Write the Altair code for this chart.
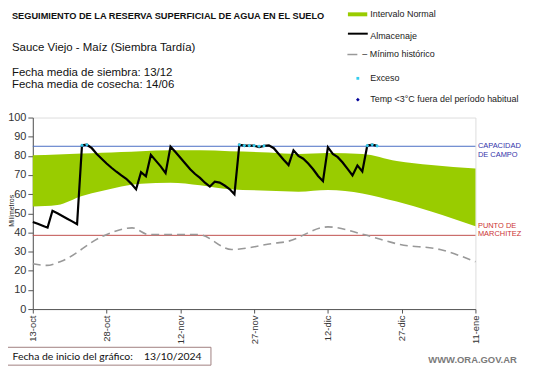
import altair as alt
import pandas as pd

# ---------------- data ----------------
tick_days = [0, 15, 30, 45, 60, 75, 90]
tick_labels = ['13-oct', '28-oct', '12-nov', '27-nov', '12-dic', '27-dic', '11-ene']
y_ticks = [0, 10, 20, 30, 40, 50, 60, 70, 80, 90, 100]

band_days = [0, 5, 10, 14, 18, 22, 28, 34, 40, 48, 54, 60, 67, 74, 81, 90]
band_upper = [80.3, 80.7, 81.2, 81.6, 82.0, 82.4, 82.9, 82.9, 82.4, 81.8, 81.0, 81.5, 81.0, 77.3, 75.2, 73.4]
band_lower = [53.5, 54.3, 59.0, 61.6, 64.0, 65.4, 66.0, 64.7, 62.6, 61.8, 61.3, 62.2, 60.4, 56.1, 51.0, 43.2]

alm_days = list(range(0, 71))
alm_vals = [45.5, 44.5, 43.5, 42.5, 51.3, 50.0, 48.6, 47.2, 45.8, 44.3,
            85.5, 85.8, 84.0, 81.0, 78.5, 76.0, 73.8, 71.7, 69.8, 68.0,
            65.5, 62.5, 71.5, 69.3, 80.5, 77.5, 74.5, 71.0, 84.8, 82.0,
            79.0, 76.0, 73.0, 70.5, 68.5, 66.0, 64.0, 66.5, 66.0, 64.5,
            62.7, 60.0, 85.8, 85.3, 85.3, 85.3, 84.5, 85.2, 85.5, 84.0,
            81.0, 78.0, 75.2, 82.9, 80.0, 78.5, 76.0, 73.0, 69.5, 66.8,
            84.5, 81.0, 79.3, 76.5, 73.2, 69.8, 75.0, 71.8, 85.3, 85.8,
            85.2]

exc_days = [10, 11, 42, 43, 44, 45, 46, 47, 68, 69, 70]
exc_vals = [85.5, 85.8, 85.8, 85.3, 85.3, 85.3, 85.0, 85.2, 85.3, 85.8, 85.2]

min_days = [0, 2.8, 5.8, 14.2, 20.2, 23.6, 33.7, 40.4, 49.5, 51.2, 60, 67.3, 74.7, 82.8, 90]
min_vals = [23.7, 22.8, 25.0, 38.0, 42.4, 38.9, 38.9, 31.1, 34.5, 35.0, 42.9, 38.9, 33.7, 31.1, 24.7]

capacidad_campo = 85
punto_marchitez = 38.5

# ---------------- chart ----------------
W, H = 446, 193
FONT = "Liberation Sans"

xscale = alt.Scale(domain=[0, 90], nice=False, zero=False)
yscale = alt.Scale(domain=[0, 100], nice=False)

label_expr = "[" + ",".join("'%s'" % t for t in tick_labels) + "][round(datum.value/15)]"

x_axis = alt.Axis(values=tick_days, labelExpr=label_expr, labelAngle=-90, labelFontSize=9.5,
                  labelFont=FONT, labelColor="#333", tickSize=4, labelPadding=2, grid=False,
                  labelOverlap=False, domainColor="#555", tickColor="#555", title=None)
y_axis = alt.Axis(values=y_ticks, labelFontSize=11, labelFont=FONT,
                  labelColor="#333", tickSize=5, labelPadding=2, grid=False,
                  labelOverlap=False, domainColor="#555", tickColor="#555", title=None)


def X(f):
    return alt.X(f, scale=xscale, axis=x_axis)


def Y(f):
    return alt.Y(f, scale=yscale, axis=y_axis)


band_df = pd.DataFrame({"d": band_days, "up": band_upper, "lo": band_lower})
alm_df = pd.DataFrame({"d": alm_days, "v": alm_vals})
exc_df = pd.DataFrame({"d": exc_days, "v": exc_vals})
min_df = pd.DataFrame({"d": min_days, "v": min_vals})

band = alt.Chart(band_df).mark_area(color="#99cc00", interpolate="monotone", opacity=1).encode(
    x=X("d:Q"), y=Y("up:Q"), y2="lo:Q")

cap_rule = alt.Chart(pd.DataFrame({"v": [capacidad_campo]})).mark_rule(
    color="#4a6fc4", strokeWidth=1).encode(y=Y("v:Q"))
mar_rule = alt.Chart(pd.DataFrame({"v": [punto_marchitez]})).mark_rule(
    color="#c0504d", strokeWidth=1).encode(y=Y("v:Q"))

minimo = alt.Chart(min_df).mark_line(color="#999999", strokeWidth=1.6, strokeDash=[8, 5],
                                      interpolate="monotone").encode(x=X("d:Q"), y=Y("v:Q"))

alm = alt.Chart(alm_df).mark_line(color="black", strokeWidth=2.2).encode(x=X("d:Q"), y=Y("v:Q"))

exc = alt.Chart(exc_df).mark_point(shape="diamond", filled=True, color="#33ccee", size=14,
                                   opacity=1).encode(x=X("d:Q"), y=Y("v:Q"))


def txt(text, x, y, size=11, color="#111", bold=False, align="left", angle=0, font=FONT):
    kw = dict(text=text, fontSize=size, color=color, align=align, baseline="alphabetic", font=font)
    if bold:
        kw["fontWeight"] = "bold"
    if angle:
        kw["angle"] = angle
    return alt.Chart(alt.Data(values=[{}])).mark_text(**kw).encode(x=alt.value(x), y=alt.value(y))


one = alt.Data(values=[{}])
# positions below are relative to the plot origin
texts = [
    txt("SEGUIMIENTO DE LA RESERVA SUPERFICIAL DE AGUA EN EL SUELO", -21, -99.5, size=9.3, bold=True),
    txt("Sauce Viejo - Maíz  (Siembra Tardía)", -21, -67.5, size=11.5),
    txt("Fecha media de siembra: 13/12", -21, -42, size=11.5),
    txt("Fecha media de cosecha: 14/06", -21, -30, size=11.5),
    txt("Intervalo Normal", 340, -101, size=9, color="#222"),
    txt("Almacenaje", 340, -79.5, size=9, color="#222"),
    txt("– Mínimo histórico", 332, -60.5, size=9, color="#222"),
    txt("Exceso", 340, -37, size=9, color="#222"),
    txt("Temp <3°C fuera del período habitual", 340, -16, size=9, color="#222"),
    txt("CAPACIDAD", 448.5, 31, size=7.5, color="#3333aa"),
    txt("DE  CAMPO", 448.5, 40, size=7.5, color="#3333aa"),
    txt("PUNTO  DE", 448.5, 111, size=7.5, color="#cc3333"),
    txt("MARCHITEZ", 448.5, 119.5, size=7.5, color="#cc3333"),
    txt("Milímetros", -18.5, 94, size=7, color="#222", align="center", angle=270),
    txt("Fecha de inicio del gráfico:", -20.5, 244.5, size=10.5, color="#111", font="Lato"),
    txt("13/10/2024", 112, 244.5, size=10.5, color="#111", font="Lato"),
    txt("WWW.ORA.GOV.AR", 398.5, 247, size=9.5, color="#7a7a7a", bold=True),
]

leg_rect = alt.Chart(one).mark_rect(color="#99cc00").encode(
    x=alt.value(317.5), x2=alt.value(337), y=alt.value(-106), y2=alt.value(-102))
leg_line = alt.Chart(one).mark_rule(color="black", strokeWidth=2).encode(
    x=alt.value(317.5), x2=alt.value(337.5), y=alt.value(-84.5))
leg_min = alt.Chart(one).mark_rule(color="#999999", strokeWidth=1.5).encode(
    x=alt.value(317), x2=alt.value(327), y=alt.value(-63.5))
leg_exc = alt.Chart(one).mark_point(shape="square", filled=True, color="#33ccee", size=8,
                                    opacity=1).encode(x=alt.value(327.5), y=alt.value(-39.5))
leg_temp = alt.Chart(one).mark_point(shape="diamond", filled=True, color="#000099", size=14,
                                     opacity=1).encode(x=alt.value(327.5), y=alt.value(-18))
box = alt.Chart(one).mark_rect(fill="white", stroke="#a08080", strokeWidth=1).encode(
    x=alt.value(-26.5), x2=alt.value(179.5), y=alt.value(231.5), y2=alt.value(249.5))

chart = alt.layer(
    band, cap_rule, mar_rule, minimo, alm, exc,
    leg_rect, leg_line, leg_min, leg_exc, leg_temp, box, *texts
).properties(
    width=W, height=H,
    autosize=alt.AutoSizeParams(type="none"),
    padding={"left": 25, "top": 109, "right": 58, "bottom": 58},
).configure_view(stroke=None).configure(background="white")

chart.save("out.html", embed_options={"renderer": "svg", "actions": False})
